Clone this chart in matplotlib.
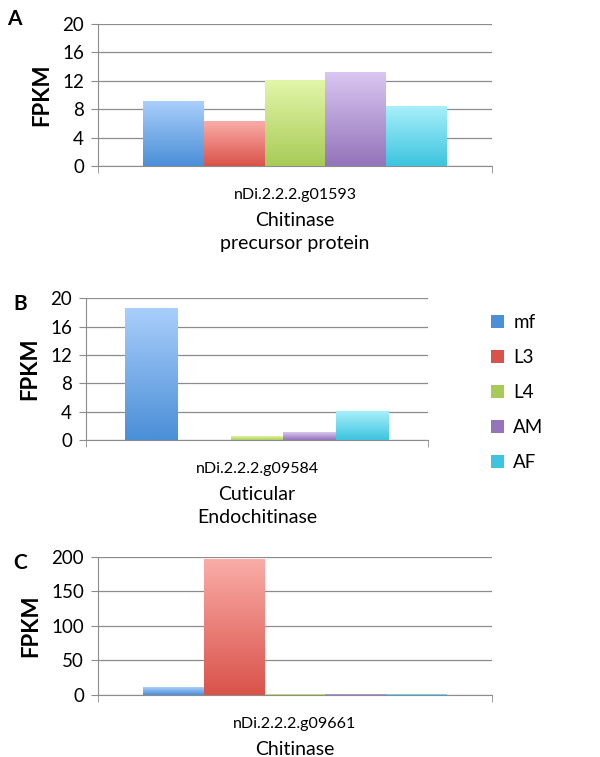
import numpy as np
import matplotlib
matplotlib.use("Agg")
import matplotlib.pyplot as plt
from matplotlib.colors import LinearSegmentedColormap
from matplotlib.patches import Patch

plt.rcParams['font.family'] = ['Lato', 'DejaVu Sans']

stages = ["mf", "L3", "L4", "AM", "AF"]
# (top colour, bottom colour) of each bar gradient
tops = ["#a9cefb", "#faaca7", "#e2f6a8", "#d9c6f1", "#a8effb"]
bottoms = ["#4b8fd7", "#d9534a", "#a8cb58", "#9474ba", "#3dc4df"]

genes = ["nDi.2.2.2.g01593", "nDi.2.2.2.g09584", "nDi.2.2.2.g09661"]
names = ["Chitinase\nprecursor protein", "Cuticular\nEndochitinase", "Chitinase"]
panel_tags = ["A", "B", "C"]

fpkm_a = [9.1, 6.2, 12.1, 13.1, 8.4]
fpkm_b = [18.6, 0.0, 0.5, 1.0, 4.0]
fpkm_c = [10.5, 196.0, 0.9, 0.3, 0.8]

yticks_a = [0, 4, 8, 12, 16, 20]
yticks_b = [0, 4, 8, 12, 16, 20]
yticks_c = [0, 50, 100, 150, 200]

fig = plt.figure(figsize=(6, 7.57), dpi=100)

boxes = [[0.163, 0.7807, 0.657, 0.1876],
         [0.1433, 0.4188, 0.57, 0.1872],
         [0.163, 0.0819, 0.657, 0.1827]]
tag_pos = [(0.012, 0.988), (0.022, 0.612), (0.022, 0.27)]

grey = "#8c8c8c"
group = 0.77
w = group / len(stages)

for box, vals, yt, gene, name, tag, tp in zip(boxes, [fpkm_a, fpkm_b, fpkm_c],
                                              [yticks_a, yticks_b, yticks_c],
                                              genes, names, panel_tags, tag_pos):
    ax = fig.add_axes(box)
    x0 = 0.5 - group / 2
    for i, v in enumerate(vals):
        left = x0 + i * w
        if v <= 0:
            continue
        cmap = LinearSegmentedColormap.from_list("g", [bottoms[i], tops[i]])
        grad = np.linspace(0, 1, 100).reshape(-1, 1)
        ax.imshow(grad, extent=[left, left + w, 0, v], origin="lower",
                  aspect="auto", cmap=cmap, zorder=3)
    ax.set_xlim(0, 1)
    ax.set_ylim(yt[0], yt[-1])
    ax.set_yticks(yt)
    ax.yaxis.grid(True, color=grey, lw=0.9)
    ax.set_axisbelow(True)
    for s in ["top", "right"]:
        ax.spines[s].set_visible(False)
    ax.spines["left"].set_color(grey)
    ax.spines["bottom"].set_color(grey)
    ax.tick_params(axis="y", colors=grey, length=5, labelsize=13.5,
                   labelcolor="black", pad=5)
    ax.set_xticks([0.5])
    ax.set_xticklabels([gene], fontsize=11.5)
    ax.set_xticks([0, 1], minor=True)
    ax.tick_params(axis="x", which="major", length=0, pad=16)
    ax.tick_params(axis="x", which="minor", length=5, color=grey)
    ax.set_xlabel(name, fontsize=14, labelpad=7, linespacing=1.45)
    ax.set_ylabel("FPKM", fontsize=16, fontweight="bold", labelpad=7)
    fig.text(tp[0], tp[1], tag, fontsize=15, fontweight="bold", va="top")

handles = [Patch(facecolor=(bottoms[i]), edgecolor="none") for i in range(5)]
fig.legend(handles, stages, loc="upper left", bbox_to_anchor=(0.79, 0.607),
           frameon=False, fontsize=13.5, handlelength=0.7, handleheight=0.7,
           handletextpad=0.5, labelspacing=0.95)

fig.savefig("out.png", dpi=100)
